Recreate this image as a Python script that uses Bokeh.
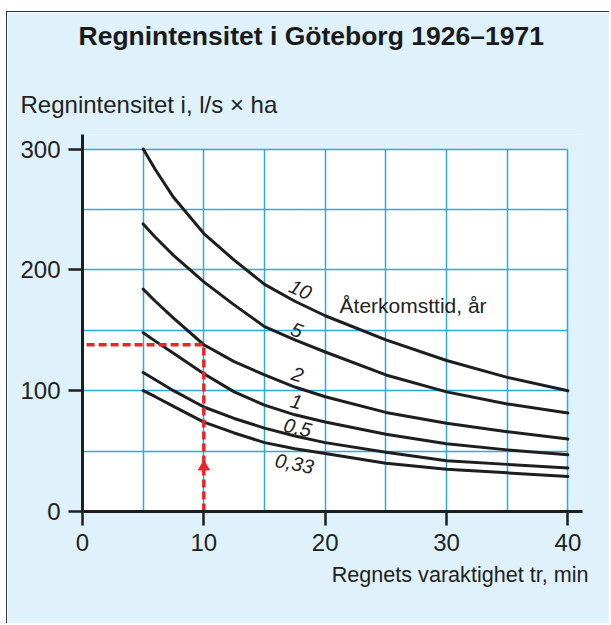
from bokeh.plotting import figure
from bokeh.models import Range1d, FixedTicker, Label, BoxAnnotation, Title
from bokeh.embed import file_html
from bokeh.resources import INLINE

# --- data ---
t = [5, 6, 7.5, 10, 12.5, 15, 17.5, 20, 25, 30, 35, 40]
i10 = [300, 283, 260, 230, 208, 188, 174, 162, 142, 125, 111, 100]
i5 = [238, 227, 212, 190, 171, 153, 142, 132, 113, 99, 89, 81.5]
i2 = [184, 174, 160, 138, 124, 113, 103, 95, 82, 73, 66, 60]
i1 = [148, 141, 131, 114, 99, 88, 80, 74, 64, 56, 51, 47]
i05 = [115, 109, 100, 86.5, 77, 69, 62.5, 57, 49, 42, 39, 36]
i033 = [100, 95, 87, 74, 65, 57, 52, 48, 40, 35, 32, 29]
series = [i10, i5, i2, i1, i05, i033]
return_labels = ["10", "5", "2", "1", "0,5", "0,33"]

example_t = [10, 10, 0]
example_i = [0, 138, 138]
arrow_t = [10]
arrow_i = [37]

x_ticks = [0, 10, 20, 30, 40]
y_ticks = [0, 100, 200, 300]
x_grid = [5, 10, 15, 20, 25, 30, 35, 40]
y_grid = [50, 100, 150, 200, 250, 300]

BG = "#dff1fb"
GRID = "#29abe2"
INK = "#1e1e1e"
RED = "#e8262a"
FONT = "Liberation Sans"

p = figure(width=603, height=612, output_backend="svg", toolbar_location=None,
           x_range=Range1d(0, 41.2), y_range=Range1d(0, 312),
           min_border_left=75, min_border_right=28, min_border_top=122, min_border_bottom=113)
p.styles = {"margin-left": "6px", "margin-top": "11px",
            "border-left": "1.5px solid #333333", "border-top": "1.5px solid #333333"}
p.background_fill_color = BG
p.border_fill_color = BG
p.outline_line_color = None

# white plotting field
p.add_layout(BoxAnnotation(left=0, right=max(x_grid), bottom=0, top=max(y_grid),
                           fill_color="white", fill_alpha=1, line_alpha=0, level="image"))

# grids
p.xgrid.ticker = FixedTicker(ticks=x_grid)
p.ygrid.ticker = FixedTicker(ticks=y_grid)
for g in (p.xgrid, p.ygrid):
    g.grid_line_color = GRID
    g.grid_line_width = 1.5
p.xgrid.cross_bounds = (0, max(y_grid))
p.ygrid.cross_bounds = (0, max(x_grid))

# axes
p.xaxis.ticker = FixedTicker(ticks=x_ticks)
p.yaxis.ticker = FixedTicker(ticks=y_ticks)
for ax in (p.xaxis, p.yaxis):
    ax.axis_line_width = 3
    ax.axis_line_color = INK
    ax.major_tick_line_width = 2.5
    ax.major_tick_line_color = INK
    ax.major_tick_out = 14
    ax.major_tick_in = 0
    ax.minor_tick_line_color = None
    ax.major_label_text_font = FONT
    ax.major_label_text_font_size = "24px"
    ax.major_label_text_color = "#222222"
    ax.major_label_standoff = 8

# curves
for s in series:
    p.line(t, s, line_color=INK, line_width=3, line_join="round", line_cap="round")

# red example
p.line(example_t, example_i, line_color=RED, line_width=3.5, line_dash="8 4")
p.scatter(arrow_t, arrow_i, marker="triangle", size=11, fill_color=RED, line_color=RED)

# curve labels
lab_pos = [(17.96, 183.7, -25), (17.67, 150.2, -20), (17.72, 113.4, -17),
           (17.63, 91.0, -14), (17.72, 69.5, -13), (17.47, 39.7, -11)]
for txt, (lx, ly, ang) in zip(return_labels, lab_pos):
    p.add_layout(Label(x=lx, y=ly, text=txt, angle=ang, angle_units="deg",
                       text_font=FONT, text_font_style="italic", text_font_size="20px",
                       text_color="#222222", text_align="center", text_baseline="middle"))

p.add_layout(Label(x=21.18, y=170.5, text="Återkomsttid, år", text_font=FONT,
                   text_font_size="21px", text_color="#222222",
                   text_align="left", text_baseline="alphabetic"))

# texts outside the frame
p.add_layout(Title(text="Regnintensitet i, l/s × ha", align="left", offset=-62, standoff=34,
                   text_font=FONT, text_font_size="24px", text_font_style="normal",
                   text_color="#222222"), "above")
p.add_layout(Title(text="Regnintensitet i Göteborg 1926–1971", align="left", offset=-4,
                   standoff=0, padding={"left": 0, "right": 0, "top": 0, "bottom": 21},
                   text_font=FONT, text_font_size="26.5px", text_font_style="bold",
                   text_color="#1a1a1a"), "above")
p.add_layout(Title(text="Regnets varaktighet  tr, min", align="right", offset=-12, standoff=13,
                   text_font=FONT, text_font_size="21.6px", text_font_style="normal",
                   text_color="#222222"), "below")

open("out.html", "w").write(file_html(p, INLINE))
